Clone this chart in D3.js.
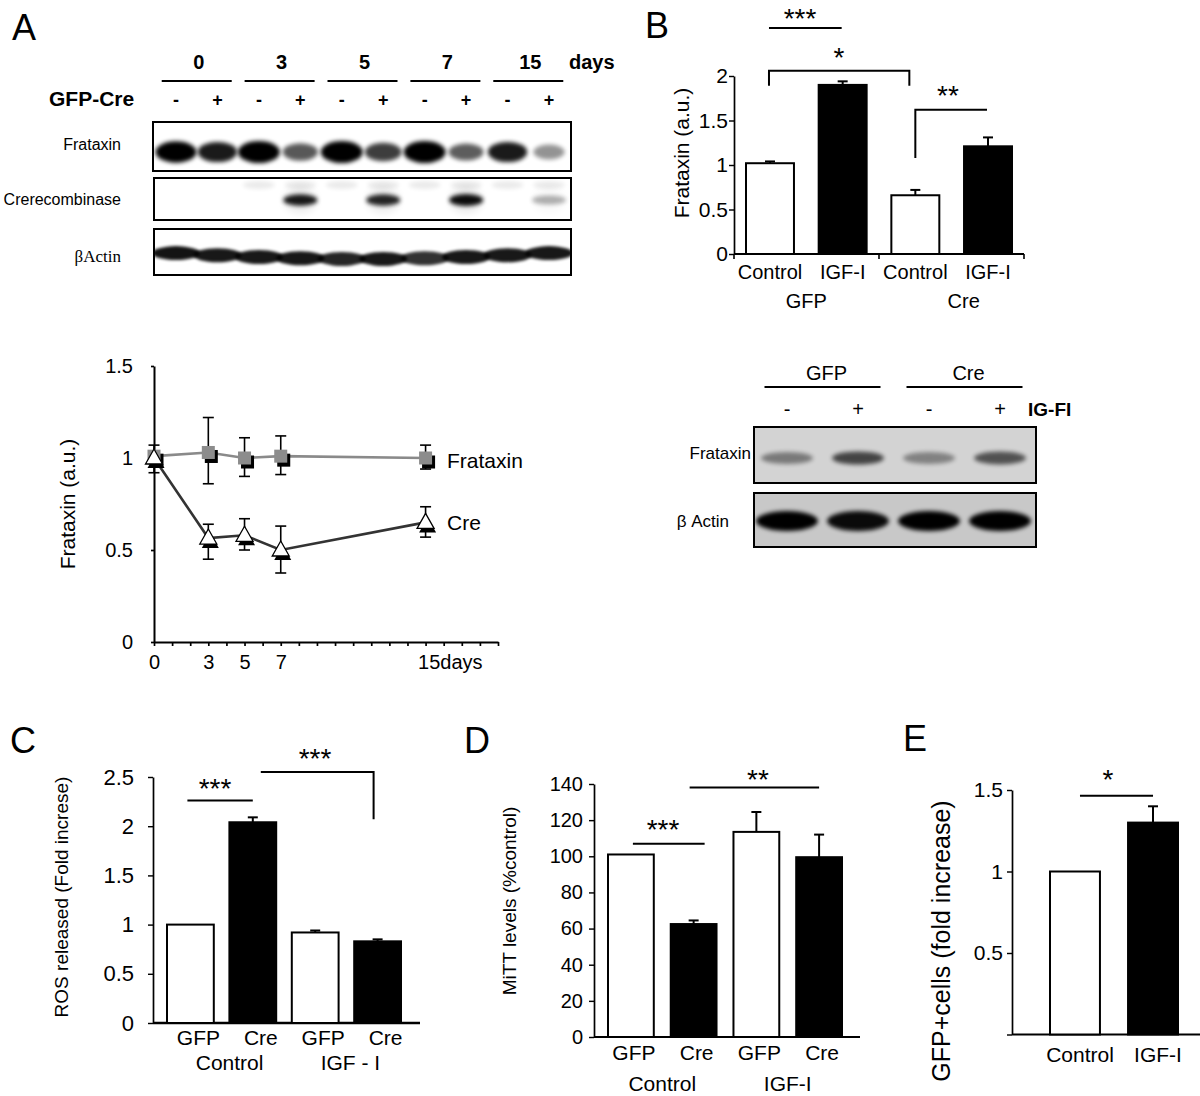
<!DOCTYPE html>
<html><head><meta charset="utf-8">
<script src="https://cdn.jsdelivr.net/npm/d3@7"></script>
<style>body{margin:0;background:#fff}</style>
</head><body><svg id="c" width="1200" height="1096"></svg>
<script>
// ---------------- DATA ----------------
// Panel A western blot
const blotDays = ["0", "3", "5", "7", "15"];
const blotSigns = ["-", "+", "-", "+", "-", "+", "-", "+", "-", "+"];
const aFrataxinBand = [0.95, 0.85, 1.0, 0.62, 1.0, 0.72, 1.0, 0.6, 0.85, 0.4];
const aCreBand = [0, 0, 0, 0.9, 0, 0.85, 0, 0.95, 0, 0.3];
const aActinBand = [0.92, 0.9, 0.9, 0.9, 0.85, 0.9, 0.8, 0.9, 0.9, 0.9];
// Panel A time course
const timeDays = [0, 3, 5, 7, 15];
const frataxinMean = [1.01, 1.03, 1.0, 1.01, 1.0];
const frataxinLow = [0.92, 0.86, 0.9, 0.91, 0.94];
const frataxinHigh = [1.07, 1.22, 1.11, 1.12, 1.07];
const creMean = [1.0, 0.565, 0.58, 0.5, 0.65];
const creLow = [0.97, 0.45, 0.5, 0.375, 0.57];
const creHigh = [1.03, 0.64, 0.67, 0.63, 0.735];
const timeTickLabels = {0: "0", 3: "3", 5: "5", 7: "7", 15: "15days"};
// Panel B bar chart
const bCategories = ["Control", "IGF-I", "Control", "IGF-I"];
const bGroups = ["GFP", "Cre"];
const bValues = [1.02, 1.9, 0.66, 1.21];
const bErrors = [0.02, 0.04, 0.06, 0.1];
const bTicks = [0, 0.5, 1, 1.5, 2];
const bTickLabels = ["0", "0.5", "1", "1.5", "2"];
// Panel B blot
const bBlotGroups = ["GFP", "Cre"];
const bBlotSigns = ["-", "+", "-", "+"];
const bBlotFrataxinBand = [0.5, 0.8, 0.45, 0.72];
const bBlotActinBand = [1.0, 0.95, 1.0, 1.0];
// Panel C
const cCategories = ["GFP", "Cre", "GFP", "Cre"];
const cGroups = ["Control", "IGF - I"];
const cValues = [1.0, 2.04, 0.92, 0.83];
const cErrors = [0, 0.05, 0.02, 0.02];
const cTicks = [0, 0.5, 1, 1.5, 2, 2.5];
const cTickLabels = ["0", "0.5", "1", "1.5", "2", "2.5"];
// Panel D
const dCategories = ["GFP", "Cre", "GFP", "Cre"];
const dGroups = ["Control", "IGF-I"];
const dValues = [101, 62.5, 113.5, 99.5];
const dErrors = [0, 2, 11, 12.5];
const dTicks = [0, 20, 40, 60, 80, 100, 120, 140];
const dTickLabels = ["0", "20", "40", "60", "80", "100", "120", "140"];
// Panel E
const eCategories = ["Control", "IGF-I"];
const eValues = [1.0, 1.3];
const eErrors = [0, 0.1];
const eTicks = [0, 0.5, 1, 1.5];
const eTickLabels = ["", "0.5", "1", "1.5"];

// ---------------- DRAWING ----------------
const FONT = '"Liberation Sans", Arial, Helvetica, sans-serif';
const svg = d3.select("#c");
svg.append("rect").attr("width", 1200).attr("height", 1096).attr("fill", "#fff");
const defs = svg.append("defs");
function blurFilter(id, s) {
  defs.append("filter").attr("id", id).attr("x", "-60%").attr("y", "-150%")
    .attr("width", "220%").attr("height", "400%")
    .append("feGaussianBlur").attr("stdDeviation", s);
}
blurFilter("bl1", 1.5); blurFilter("bl2", 2.3); blurFilter("bl3", 3.5);

function txt(x, y, s, fs, o = {}) {
  return svg.append("text").attr("x", x).attr("y", y).attr("font-size", fs)
    .attr("font-family", o.family || FONT).attr("text-anchor", o.anchor || "middle")
    .attr("font-weight", o.bold ? "bold" : "normal").attr("fill", "#000").text(s);
}
function line(x1, y1, x2, y2, w = 2, c = "#000", g = svg) {
  return g.append("line").attr("x1", x1).attr("y1", y1).attr("x2", x2).attr("y2", y2)
    .attr("stroke", c).attr("stroke-width", w);
}
function star(x, cy, s, fs = 28) { return txt(x, cy + 0.58 * fs, s, fs); }
function vtitle(cx, cy, s, fs) {
  svg.append("text").attr("transform", `translate(${cx},${cy}) rotate(-90)`)
    .attr("text-anchor", "middle").attr("dy", "0.35em").attr("font-size", fs)
    .attr("font-family", FONT).attr("fill", "#000").text(s);
}
function styleAxis(g, fs, sw) {
  g.attr("font-size", fs).attr("font-family", FONT);
  g.selectAll("path.domain").attr("stroke", "#000").attr("stroke-width", sw);
  g.selectAll(".tick line").attr("stroke", "#000").attr("stroke-width", sw * 0.85);
  g.selectAll(".tick text").attr("fill", "#000");
}
let clipN = 0;
function box(x, y, w, h, fill) {
  const id = "clip" + (clipN++);
  defs.append("clipPath").attr("id", id).append("rect").attr("x", x).attr("y", y).attr("width", w).attr("height", h);
  svg.append("rect").attr("x", x).attr("y", y).attr("width", w).attr("height", h).attr("fill", fill);
  const g = svg.append("g").attr("clip-path", `url(#${id})`);
  return {g, border: () => svg.append("rect").attr("x", x).attr("y", y).attr("width", w).attr("height", h)
    .attr("fill", "none").attr("stroke", "#000").attr("stroke-width", 2)};
}

// Panel letters
txt(12, 40, "A", 36, {anchor: "start"});
txt(645, 38, "B", 36, {anchor: "start"});
txt(10, 753, "C", 36, {anchor: "start"});
txt(464, 753, "D", 36, {anchor: "start"});
txt(903, 751, "E", 36, {anchor: "start"});

// ===== Panel A blot =====
const aLaneX = d3.scalePoint().domain(d3.range(10)).range([176, 549]);
blotDays.forEach((d, i) => {
  const cx = (aLaneX(2 * i) + aLaneX(2 * i + 1)) / 2;
  txt(cx + 2, 69, d, 20, {bold: true});
  line(cx - 35, 81, cx + 35, 81, 2);
});
txt(569, 69, "days", 20, {bold: true, anchor: "start"});
txt(49, 106, "GFP-Cre", 21, {bold: true, anchor: "start"});
blotSigns.forEach((s, i) => txt(aLaneX(i), 106, s, 18, {bold: true}));

const bxF = box(153, 122, 418, 49, "#fff");
aFrataxinBand.forEach((v, i) => {
  bxF.g.append("ellipse").attr("cx", aLaneX(i)).attr("cy", 152)
    .attr("rx", 12 + 9 * v).attr("ry", 5 + 6 * v)
    .attr("fill", "#000").attr("opacity", Math.min(1, v * 1.05)).attr("filter", "url(#bl2)");
});
bxF.border();
const bxC = box(154, 178, 417, 42, "#fff");
aCreBand.forEach((v, i) => {
  if (i >= 2) bxC.g.append("ellipse").attr("cx", aLaneX(i)).attr("cy", 185).attr("rx", 16).attr("ry", 4)
    .attr("fill", "#000").attr("opacity", 0.08).attr("filter", "url(#bl2)");
  if (v > 0) {
    bxC.g.append("ellipse").attr("cx", aLaneX(i)).attr("cy", 200).attr("rx", 17).attr("ry", 14)
      .attr("fill", "#000").attr("opacity", 0.07 * v).attr("filter", "url(#bl3)");
    bxC.g.append("ellipse").attr("cx", aLaneX(i)).attr("cy", 200).attr("rx", 17).attr("ry", 4 + 2 * v)
      .attr("fill", "#000").attr("opacity", v).attr("filter", "url(#bl2)");
  }
});
bxC.border();
const bxA = box(154, 229, 417, 46, "#fff");
aActinBand.forEach((v, i) => {
  const cy = 252 + 7 * Math.sin(Math.PI * (i + 0.5) / 10);
  bxA.g.append("ellipse").attr("cx", aLaneX(i)).attr("cy", cy).attr("rx", 24).attr("ry", 7)
    .attr("fill", "#000").attr("opacity", v).attr("filter", "url(#bl1)");
});
bxA.border();
txt(121, 150, "Frataxin", 16, {anchor: "end"});
txt(121, 205, "Crerecombinase", 16, {anchor: "end"});
txt(121, 262, "βActin", 17, {anchor: "end", family: '"Liberation Serif", "Times New Roman", serif'});

// ===== Panel A time course =====
const xA = d3.scaleLinear().domain([0, 19]).range([154, 498]);
const yA = d3.scaleLinear().domain([0, 1.5]).range([642, 366]);
const gYA = svg.append("g").attr("transform", "translate(154,0)")
  .call(d3.axisLeft(yA).tickValues([0, 0.5, 1, 1.5]).tickFormat(d => String(d)).tickSize(3).tickSizeOuter(0).tickPadding(18));
styleAxis(gYA, 20, 2);
const gXA = svg.append("g").attr("transform", "translate(0,642)")
  .call(d3.axisBottom(xA).tickValues(d3.range(0, 20)).tickSize(4).tickSizeOuter(0).tickPadding(9)
    .tickFormat(d => timeTickLabels[d] || ""));
styleAxis(gXA, 20, 2);
gXA.selectAll(".tick text").filter(d => d === 15).attr("text-anchor", "start").attr("x", -8);
vtitle(68, 504, "Frataxin (a.u.)", 21);

const gA = svg.append("g");
function errBars(means, lows, highs) {
  timeDays.forEach((d, i) => {
    const x = xA(d);
    line(x, yA(lows[i]), x, yA(highs[i]), 1.6, "#000", gA);
    line(x - 5.5, yA(lows[i]), x + 5.5, yA(lows[i]), 1.6, "#000", gA);
    line(x - 5.5, yA(highs[i]), x + 5.5, yA(highs[i]), 1.6, "#000", gA);
  });
}
errBars(frataxinMean, frataxinLow, frataxinHigh);
errBars(creMean, creLow, creHigh);
const lineGen = d3.line().x((d, i) => xA(timeDays[i])).y(d => yA(d));
gA.append("path").attr("d", lineGen(frataxinMean)).attr("fill", "none").attr("stroke", "#8a8a8a").attr("stroke-width", 2.6);
gA.append("path").attr("d", lineGen(creMean)).attr("fill", "none").attr("stroke", "#333").attr("stroke-width", 2.6);
// squares
frataxinMean.forEach((v, i) => {
  const x = xA(timeDays[i]), y = yA(v);
  gA.append("rect").attr("x", x - 6.5 + 3).attr("y", y - 6.5 + 4).attr("width", 13).attr("height", 13).attr("fill", "#000");
  gA.append("rect").attr("x", x - 6.5).attr("y", y - 6.5).attr("width", 13).attr("height", 13).attr("fill", "#8c8c8c");
});
// triangles
const tri = (x, y) => `M${x},${y - 9}L${x + 8.5},${y + 6}L${x - 8.5},${y + 6}Z`;
creMean.forEach((v, i) => {
  const x = xA(timeDays[i]), y = yA(v);
  gA.append("path").attr("d", tri(x + 2, y + 4)).attr("fill", "#000");
  gA.append("path").attr("d", tri(x, y)).attr("fill", "#fff").attr("stroke", "#000").attr("stroke-width", 1.3);
});
txt(447, 468, "Frataxin", 21, {anchor: "start"});
txt(447, 530, "Cre", 21, {anchor: "start"});

// ===== Bar panel helper =====
function barPanel(o) {
  const g = svg.append("g");
  const base = o.y(0);
  const yAx = g.append("g").attr("transform", `translate(${o.axisX},0)`)
    .call(d3.axisLeft(o.y).tickValues(o.ticks).tickFormat((d, i) => o.tickLabels[i])
      .tickSize(5).tickSizeOuter(0).tickPadding(o.tickPad));
  styleAxis(yAx, o.tickFs || 21, 1.7);
  line(o.axisX, base, o.axisEnd, base, o.xsw || 2, "#000", g);
  (o.xTicks || []).forEach(x => line(x, base, x, base + 5, 1.6, "#000", g));
  const bw = o.x.bandwidth();
  g.selectAll("rect.bar").data(o.values).join("rect").attr("class", "bar")
    .attr("x", (d, i) => o.x(i)).attr("width", bw)
    .attr("y", d => o.y(d)).attr("height", d => base - o.y(d))
    .attr("fill", (d, i) => i % 2 === 0 ? "#fff" : "#000")
    .attr("stroke", "#000").attr("stroke-width", 2);
  o.values.forEach((v, i) => {
    if (!o.errors[i]) return;
    const cx = o.x(i) + bw / 2, top = o.y(v + o.errors[i]);
    line(cx, o.y(v), cx, top, 2, "#000", g);
    line(cx - 5, top, cx + 5, top, 2, "#000", g);
  });
  const xAx = g.append("g").attr("transform", `translate(${o.catDx || 0},${base})`)
    .call(d3.axisBottom(o.x).tickFormat((d, i) => o.cats[i]).tickSize(0));
  xAx.select(".domain").remove();
  styleAxis(xAx, o.catFs || 21, 1);
  xAx.selectAll(".tick text").attr("y", o.catY).attr("dy", 0);
  (o.groups || []).forEach((s, k) => {
    const cx = (o.x(2 * k) + o.x(2 * k + 1) + bw) / 2 + (o.groupDx ? o.groupDx[k] : 0);
    txt(cx, base + o.groupY, s, o.catFs || 21);
  });
  vtitle(o.titleX, o.titleY, o.title, o.titleFs);
  return {g, cx: i => o.x(i) + bw / 2};
}

// ===== Panel B =====
const bX = d3.scaleBand().domain(d3.range(4)).range([746, 1012]).paddingInner(0.34).paddingOuter(0);
const bY = d3.scaleLinear().domain([0, 2]).range([254, 76]);
const pB = barPanel({x: bX, y: bY, axisX: 734, axisEnd: 1024, xTicks: [734, 879, 1024],
  values: bValues, errors: bErrors, ticks: bTicks, tickLabels: bTickLabels, tickPad: 1, tickFs: 21,
  cats: bCategories, catY: 25, catFs: 20, groups: bGroups, groupY: 54, groupDx: [0, 12],
  title: "Frataxin (a.u.)", titleX: 682, titleY: 153, titleFs: 21});
star(800, 12, "***");
line(pB.cx(0) - 1, bY(2.54), pB.cx(1) - 1, bY(2.54), 2);
star(839, 51, "*");
svg.append("path").attr("d", `M${pB.cx(0) - 1},${bY(1.89)}V${bY(2.06)}H${pB.cx(2) - 6}V${bY(1.89)}`)
  .attr("fill", "none").attr("stroke", "#000").attr("stroke-width", 2);
star(948, 89, "**");
svg.append("path").attr("d", `M${pB.cx(2)},${bY(1.08)}V${bY(1.62)}H${pB.cx(3) - 1}`)
  .attr("fill", "none").attr("stroke", "#000").attr("stroke-width", 2);

// ===== Panel B blot =====
const bLaneX = d3.scalePoint().domain(d3.range(4)).range([787, 1000]);
bBlotGroups.forEach((s, k) => {
  const cx = (bLaneX(2 * k) + bLaneX(2 * k + 1)) / 2;
  txt(cx + 4, 380, s, 20);
  line(cx - 58, 387, cx + 58, 387, 2);
});
bBlotSigns.forEach((s, i) => txt(bLaneX(i), 416, s, 20));
txt(1028, 416, "IG-FI", 19, {bold: true, anchor: "start"});
const bxBF = box(754, 427, 282, 56, "#d3d3d3");
bBlotFrataxinBand.forEach((v, i) => {
  bxBF.g.append("ellipse").attr("cx", bLaneX(i)).attr("cy", 458).attr("rx", 26).attr("ry", 5 + 2 * v)
    .attr("fill", "#000").attr("opacity", v * 0.85).attr("filter", "url(#bl2)");
});
bxBF.border();
const bxBA = box(754, 493, 282, 54, "#c8c8c8");
bBlotActinBand.forEach((v, i) => {
  bxBA.g.append("ellipse").attr("cx", bLaneX(i)).attr("cy", 521).attr("rx", 31).attr("ry", 10)
    .attr("fill", "#000").attr("opacity", v).attr("filter", "url(#bl2)");
});
bxBA.border();
txt(751, 459, "Frataxin", 17, {anchor: "end"});
txt(729, 527, "β Actin", 17, {anchor: "end"});

// ===== Panel C =====
const cX = d3.scaleBand().domain(d3.range(4)).range([167, 401]).paddingInner(0.25).paddingOuter(0);
const cY = d3.scaleLinear().domain([0, 2.5]).range([1023, 777]);
const pC = barPanel({x: cX, y: cY, axisX: 153, axisEnd: 420, xsw: 2.5,
  values: cValues, errors: cErrors, ticks: cTicks, tickLabels: cTickLabels, tickPad: 14, tickFs: 22,
  cats: cCategories, catDx: 8, catY: 22, groups: cGroups, groupY: 47, groupDx: [8, 4],
  title: "ROS released (Fold increse)", titleX: 61, titleY: 897, titleFs: 19});
star(215, 782, "***");
line(pC.cx(0) - 3, cY(2.26), pC.cx(1), cY(2.26), 2);
star(315, 752, "***");
svg.append("path").attr("d", `M${pC.cx(1) + 8},${cY(2.55)}H${pC.cx(3) - 4}V${cY(2.07)}`)
  .attr("fill", "none").attr("stroke", "#000").attr("stroke-width", 2);

// ===== Panel D =====
const dX = d3.scaleBand().domain(d3.range(4)).range([608, 842]).paddingInner(0.27).paddingOuter(0);
const dY = d3.scaleLinear().domain([0, 140]).range([1037, 784]);
const pD = barPanel({x: dX, y: dY, axisX: 594, axisEnd: 860,
  values: dValues, errors: dErrors, ticks: dTicks, tickLabels: dTickLabels, tickPad: 6, tickFs: 20,
  cats: dCategories, catDx: 3, catY: 23, groups: dGroups, groupY: 54,
  title: "MiTT levels (%control)", titleX: 509, titleY: 901, titleFs: 19});
star(663, 823, "***");
line(pD.cx(0) + 2, dY(107), pD.cx(1) + 11, dY(107), 2);
star(758, 773, "**");
line(pD.cx(1) - 4, dY(138), pD.cx(3), dY(138), 2);

// ===== Panel E =====
const eX = d3.scaleBand().domain(d3.range(2)).range([1050, 1178]).paddingInner(0.36).paddingOuter(0);
const eY = d3.scaleLinear().domain([0, 1.5]).range([1034.5, 790]);
const pE = barPanel({x: eX, y: eY, axisX: 1012, axisEnd: 1200,
  values: eValues, errors: eErrors, ticks: eTicks, tickLabels: eTickLabels, tickPad: 4,
  cats: eCategories, catDx: 5, catY: 27, groups: [],
  title: "GFP+cells (fold increase)", titleX: 941, titleY: 941, titleFs: 25});
star(1108, 773, "*");
line(pE.cx(0) + 5, eY(1.465), pE.cx(1), eY(1.465), 2);
</script></body></html>
